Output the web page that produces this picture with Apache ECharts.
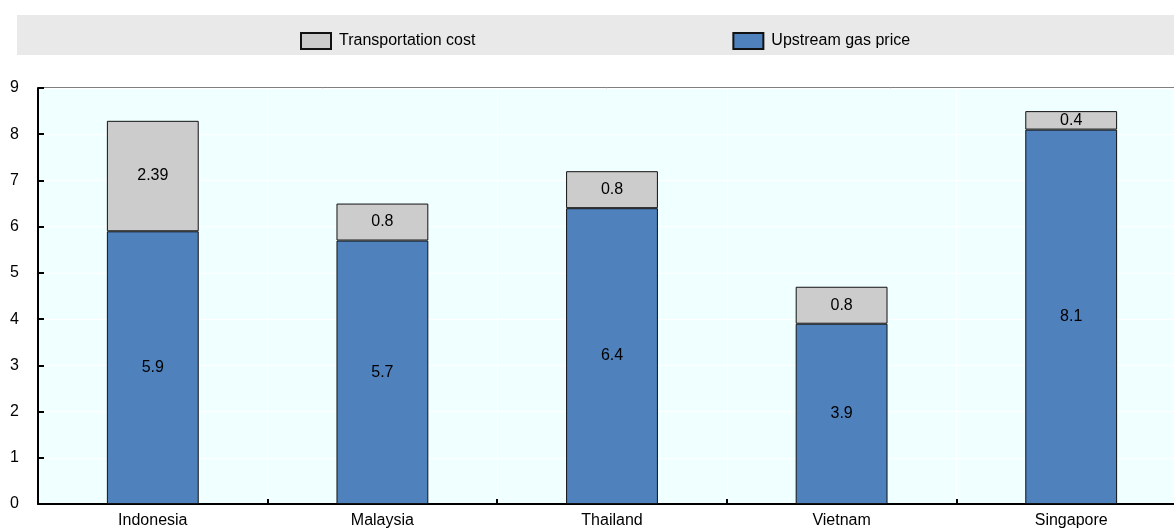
<!DOCTYPE html>
<html>
<head>
<meta charset="utf-8">
<style>
  html, body { margin: 0; padding: 0; background: #ffffff; }
  #chart { width: 1174px; height: 529px; }
</style>
<script src="https://cdn.jsdelivr.net/npm/echarts@6/dist/echarts.min.js"></script>
</head>
<body>
<div id="chart"></div>
<script>
// Gas price components by country (USD/MMBtu)
const countries = ['Indonesia', 'Malaysia', 'Thailand', 'Vietnam', 'Singapore'];
const upstreamPrice = [5.9, 5.7, 6.4, 3.9, 8.1];
const transportCost = [2.39, 0.8, 0.8, 0.8, 0.4];
const yTicks = [0, 1, 2, 3, 4, 5, 6, 7, 8, 9];

const FONT = "'Liberation Sans', Arial, sans-serif";
const FS = 16;
const chart = echarts.init(document.getElementById('chart'), null, { renderer: 'canvas' });

const labelStyle = {
  show: true,
  position: 'inside',
  color: '#000',
  fontFamily: FONT,
  fontSize: FS,
  formatter: p => String(p.value)
};

chart.setOption({
  animation: false,
  textStyle: { fontFamily: FONT },
  graphic: [{
    type: 'rect',
    left: 17, top: 15,
    shape: { width: 1157, height: 40 },
    style: { fill: '#e9e9e9' },
    z: -1
  }],
  legend: {
    left: 295, top: 27,
    icon: 'rect',
    itemWidth: 30, itemHeight: 16,
    itemGap: 257,
    data: ['Transportation cost', 'Upstream gas price'],
    textStyle: { fontFamily: FONT, fontSize: FS, color: '#000', padding: [0, 0, 0, 3] }
  },
  grid: {
    left: 38, top: 88, width: 1148, height: 416,
    outerBoundsMode: 'none',
    show: true,
    backgroundColor: '#f0ffff',
    borderColor: '#000',
    borderWidth: 1,
    containLabel: false
  },
  xAxis: {
    type: 'category',
    data: countries,
    axisLine: { show: true, lineStyle: { color: '#000', width: 2 } },
    axisTick: { show: true, inside: true, length: 5, alignWithLabel: false, lineStyle: { color: '#000', width: 2 } },
    axisLabel: { color: '#000', fontSize: FS, fontFamily: FONT, margin: 9 },
    splitLine: { show: true, lineStyle: { color: '#ffffff', width: 1 } }
  },
  yAxis: {
    type: 'value',
    min: yTicks[0], max: yTicks[yTicks.length - 1], interval: 1,
    axisLine: { show: true, lineStyle: { color: '#000', width: 2 } },
    axisTick: { show: true, inside: true, length: 6, lineStyle: { color: '#000', width: 2 } },
    axisLabel: { color: '#000', fontSize: FS, fontFamily: FONT, margin: 19 },
    splitLine: { show: true, lineStyle: { color: '#ffffff', width: 1 } }
  },
  series: [
    {
      name: 'Upstream gas price',
      type: 'bar',
      stack: 'total',
      barWidth: '40%',
      data: upstreamPrice,
      itemStyle: { color: '#4f81bd', borderColor: '#111', borderWidth: 1 },
      label: labelStyle
    },
    {
      name: 'Transportation cost',
      type: 'bar',
      stack: 'total',
      barWidth: '40%',
      data: transportCost,
      itemStyle: { color: '#cccccc', borderColor: '#111', borderWidth: 1 },
      label: labelStyle
    }
  ]
});
</script>
</body>
</html>
